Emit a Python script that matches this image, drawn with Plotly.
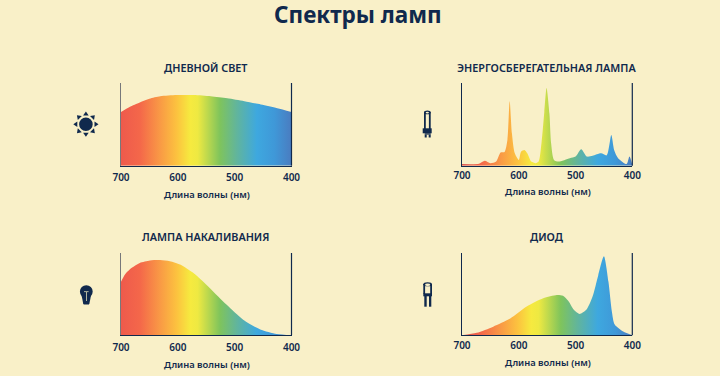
import plotly.graph_objects as go

BG = "#f9f0c8"
INK = "#10294d"
FONT = "Noto Sans"

page_title = "Спектры ламп"
axis_title = "Длина волны (нм)"
tick_values = [700, 600, 500, 400]
panel_titles = ["ДНЕВНОЙ СВЕТ", "ЭНЕРГОСБЕРЕГАТЕЛЬНАЯ ЛАМПА", "ЛАМПА НАКАЛИВАНИЯ", "ДИОД"]

daylight_nm = [700, 685, 667, 650, 631, 602, 572, 542, 513, 483, 454, 425, 400]
daylight_val = [65, 71, 76.5, 81, 84, 85.5, 85.5, 84, 81.5, 78, 74, 69.5, 65]

cfl_nm = [700, 670, 660, 650, 640, 632, 625, 620, 616, 612, 607, 600, 596, 590, 585, 578, 570, 565, 560, 555, 551, 546, 543, 538, 530, 510, 500, 490, 480, 470, 455, 445, 437, 432, 425, 410, 405, 400]
cfl_val = [2, 2.4, 6, 3, 5, 16, 16.6, 31, 78, 39, 15, 7, 17, 19, 15, 5, 3, 5, 27, 65, 94, 63, 27, 7, 5, 9, 11, 20, 11, 12, 15, 12.5, 37, 19, 9, 2, 11, 1]

incandescent_nm = [700, 693, 681, 667, 649, 631, 614, 596, 585, 573, 558, 543, 514, 485, 455, 426, 400]
incandescent_val = [65, 74, 82, 88, 91, 91.5, 90, 86, 81.5, 76, 67, 57, 37, 19, 7, 1.5, 0]

diode_nm = [700, 674, 645, 615, 586, 557, 533, 522, 512, 503, 493, 481, 470, 460, 450, 442, 436, 431, 416, 400]
diode_val = [0, 3, 10.5, 20.5, 35, 45, 49, 48, 41, 31, 26, 31, 47, 73, 96, 65, 29, 13, 4.5, 0]

spectrum_nm = [700, 667, 631, 602, 578, 565, 526, 497, 461, 430, 400]
spectrum_colors = ["#ee5a4c", "#f4674a", "#f99a45", "#fcc23f", "#f6ea3f", "#eee942", "#7fc45c", "#62b59b", "#3ea8df", "#3f98d8", "#4a7cc0"]
dim_spectrum_colors = ["#d9534f", "#f4674a", "#f99a45", "#fcc23f", "#f6ea3f", "#eee942", "#7fc45c", "#62b59b", "#3ea8df", "#3f98d8", "#4a7cc0"]

W, H = 720, 376
def X(p): return p / W
def Y(p): return 1 - p / H

panels = [
    (daylight_nm, daylight_val, (121, 291.5), (83, 165.7), 177, 194, 67, "#77787a", spectrum_colors),
    (cfl_nm, cfl_val, (462, 632.3), (83, 165.7), 175, 192, 67, INK, dim_spectrum_colors),
    (incandescent_nm, incandescent_val, (121, 291.5), (253, 335.3), 347, 364, 236, "#77787a", spectrum_colors),
    (diode_nm, diode_val, (462, 632.3), (253, 335.3), 345, 362, 236, INK, dim_spectrum_colors),
]

fig = go.Figure()
shapes, annotations = [], []
layout = {}
for i, (nm, val, (x0, x1), (y0, y1), tick_y, xt_y, title_y, left_col, cols) in enumerate(panels):
    n = i + 1
    sfx = "" if n == 1 else str(n)
    lo = [(700 - k) / 300 for k in spectrum_nm]
    fig.add_trace(go.Scatter(
        x=nm, y=val, xaxis=f"x{sfx}", yaxis=f"y{sfx}", mode="lines",
        line=dict(width=0, shape="spline", smoothing=0.7, color="rgba(0,0,0,0)"),
        fill="tozeroy",
        fillgradient=dict(type="horizontal", start=700, stop=400,
                          colorscale=[[p, c] for p, c in zip(lo, cols)]),
        hoverinfo="skip", showlegend=False,
    ))
    layout[f"xaxis{sfx}"] = dict(
        domain=[X(x0), X(x1)], range=[700, 400], anchor=f"y{sfx}", automargin=False,
        tickmode="array", tickvals=tick_values, ticks="outside", ticklen=tick_y - (y1 + 9),
        tickcolor="rgba(0,0,0,0)", showgrid=False, zeroline=False,
        showline=True, linecolor=INK, linewidth=1.2,
        tickfont=dict(family=FONT, size=10, color=INK, weight=600),
    )
    layout[f"yaxis{sfx}"] = dict(
        domain=[Y(y1), Y(y0)], range=[0, 100], anchor=f"x{sfx}", automargin=False,
        showticklabels=False, ticks="", showgrid=False, zeroline=False,
        showline=True, linecolor=left_col, linewidth=1.2,
    )
    shapes.append(dict(type="line", xref="paper", yref="paper", x0=X(x1), x1=X(x1),
                       y0=Y(y0), y1=Y(y1), line=dict(color=INK, width=1.2), layer="above"))
    cx = (x0 + x1) / 2
    annotations.append(dict(text=panel_titles[i], xref="paper", yref="paper", x=X(cx - 0.5), y=Y(title_y),
                            showarrow=False, xanchor="center", yanchor="middle",
                            font=dict(family=FONT, size=10.8, color=INK, weight=600)))
    annotations.append(dict(text=axis_title, xref="paper", yref="paper", x=X(cx + 0.5), y=Y(xt_y),
                            showarrow=False, xanchor="center", yanchor="middle",
                            font=dict(family=FONT, size=9.4, color=INK, weight=600)))

annotations.append(dict(text=page_title, xref="paper", yref="paper", x=X(358), y=Y(15),
                        showarrow=False, xanchor="center", yanchor="middle",
                        font=dict(family=FONT, size=22.5, color=INK, weight=700)))

def poly(points):
    return "M " + " L ".join(f"{X(a):.5f},{Y(b):.5f}" for a, b in points) + " Z"
def fill_path(points, fill=INK):
    return dict(type="path", xref="paper", yref="paper", path=poly(points),
                fillcolor=fill, line=dict(width=0), layer="above")
def oval(cx, cy, rx, ry, fill=INK):
    return dict(type="circle", xref="paper", yref="paper", x0=X(cx - rx), x1=X(cx + rx),
                y0=Y(cy + ry), y1=Y(cy - ry), fillcolor=fill, line=dict(width=0), layer="above")
def rect(a, b, c, d, fill=INK):
    return dict(type="rect", xref="paper", yref="paper", x0=X(a), x1=X(c), y0=Y(d), y1=Y(b),
                fillcolor=fill, line=dict(width=0), layer="above")

# sun
sx, sy = 85.9, 124.2
shapes.append(oval(sx, sy, 6.8, 6.8))
dirs = [(0, -1), (.71, -.71), (1, 0), (.71, .71), (0, 1), (-.71, .71), (-1, 0), (-.71, -.71)]
for dx, dy in dirs:
    px, py = -dy, dx
    shapes.append(fill_path([(sx + dx * 8.6 + px * 2.8, sy + dy * 8.6 + py * 2.8),
                             (sx + dx * 8.6 - px * 2.8, sy + dy * 8.6 - py * 2.8),
                             (sx + dx * 12.6, sy + dy * 12.6)]))
# CFL
shapes += [rect(424, 112, 425.8, 129), rect(428.9, 112, 430.7, 129), oval(427.35, 112.4, 3.35, 1.8), oval(427.35, 112.6, 1.6, 0.9, BG),
           rect(422.7, 128.3, 431.7, 133.3), rect(424.7, 133.3, 430.7, 134.6),
           rect(424.7, 134.6, 426.7, 137.5), rect(428.7, 134.6, 430.7, 137.5)]
# bulb
shapes += [oval(86.3, 291.6, 6.4, 6.4),
           fill_path([(81.6, 295.5), (91, 295.5), (89.3, 304), (83.3, 304)]),
           rect(83.6, 303.6, 89, 304.5)]
shapes += [rect(84, 291.3, 88.6, 292.1, "#d9d8b4"), rect(86.2, 292, 87, 301, "#d9d8b4")]
# diode
shapes += [rect(423.3, 284, 425.1, 294), rect(430.2, 284, 432, 294), oval(427.65, 284.2, 4.35, 2), oval(427.65, 284.8, 2.6, 1.2, BG),
           rect(423.3, 293.3, 432, 296.3), rect(424.3, 296, 426.7, 306.7), rect(429, 296, 431.3, 306.7)]

fig.update_layout(
    width=W, height=H, autosize=False, margin=dict(l=0, r=0, t=0, b=0, autoexpand=False),
    paper_bgcolor=BG, plot_bgcolor=BG, shapes=shapes, annotations=annotations, showlegend=False,
    **layout,
)
fig.write_html("out.html", config={"displayModeBar": False},
               post_script="document.body.style.margin='0';document.body.style.overflow='hidden';document.documentElement.style.background='" + BG + "';")
